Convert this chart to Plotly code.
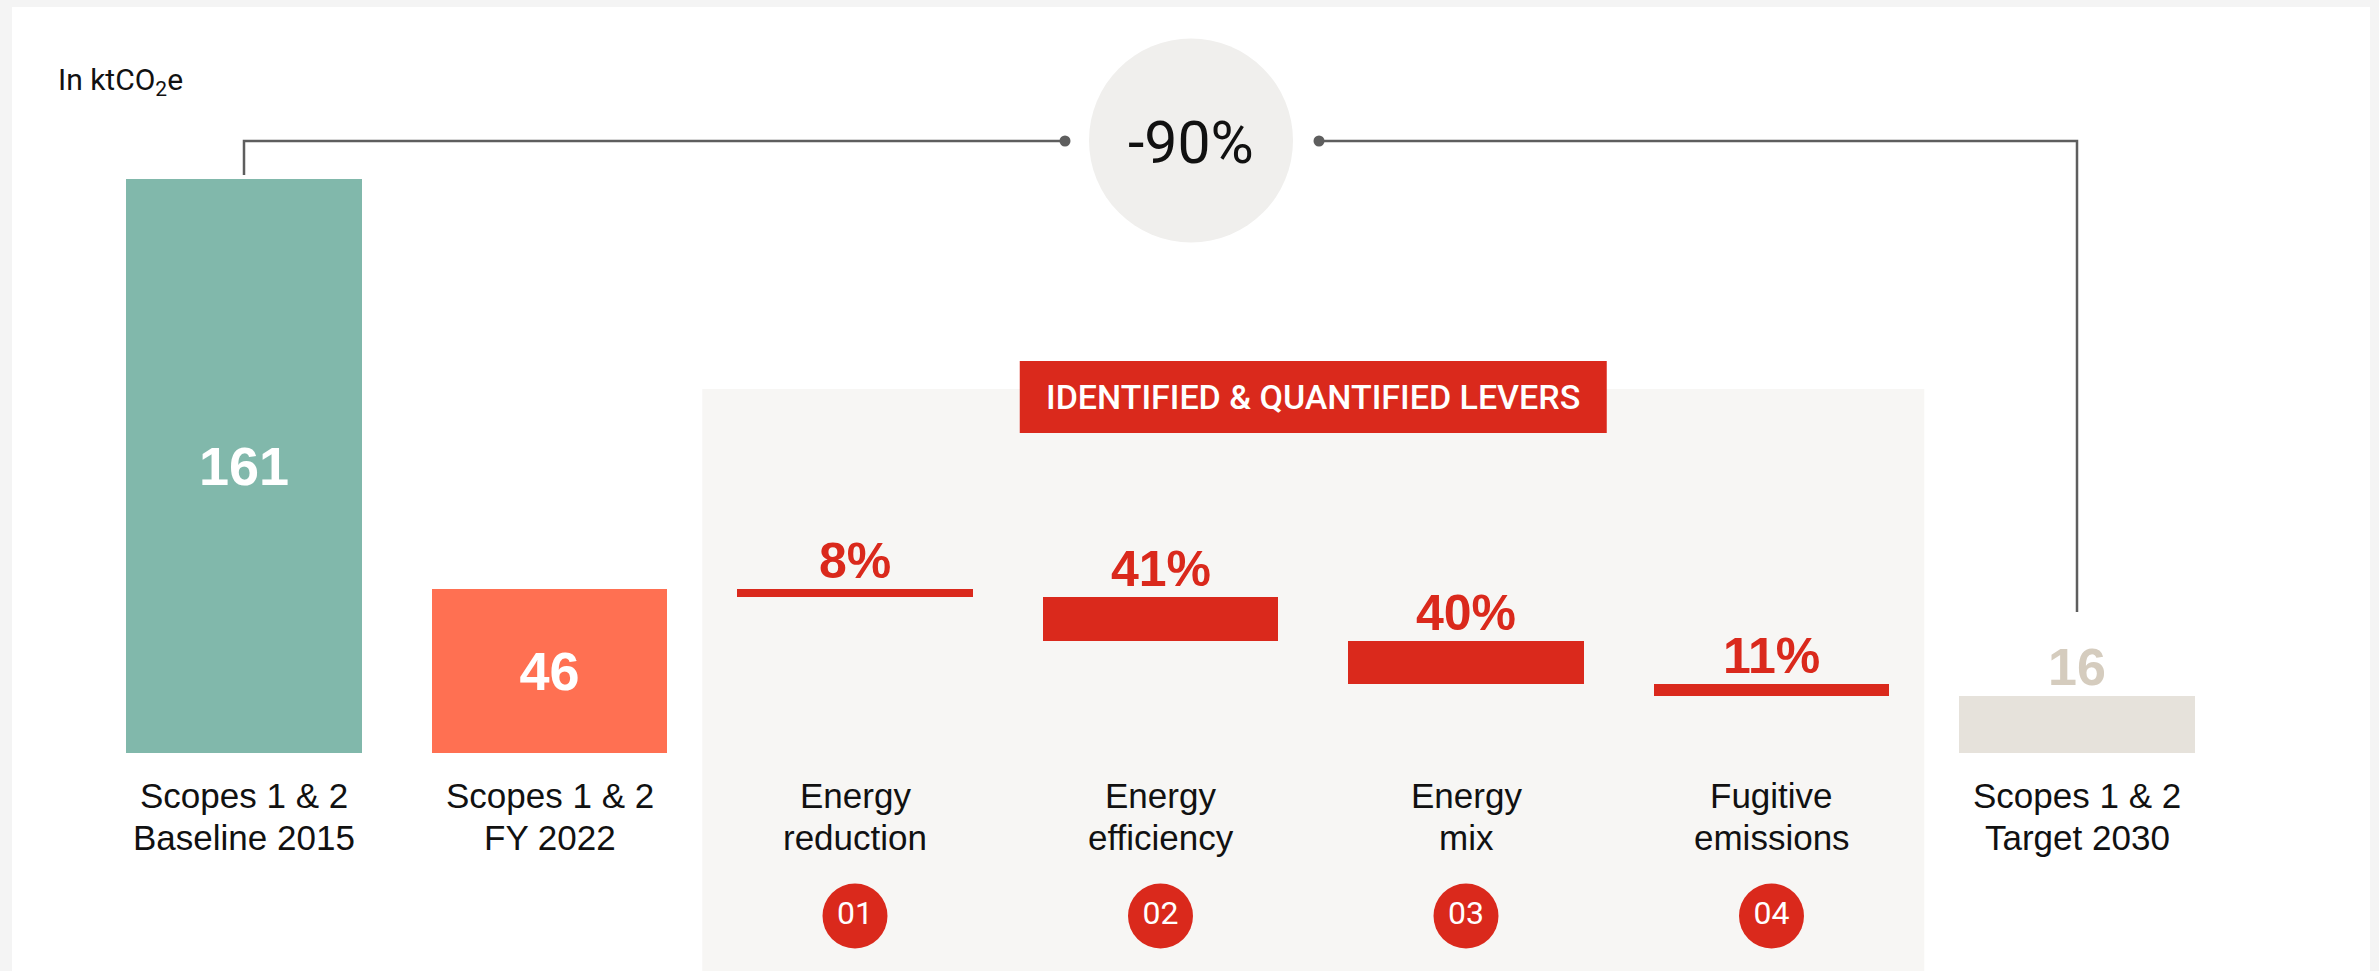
import plotly.graph_objects as go

# ---------------------------------------------------------------- data
stage_labels = [
    "Scopes 1 & 2<br>Baseline 2015",
    "Scopes 1 & 2<br>FY 2022",
    "Energy<br>reduction",
    "Energy<br>efficiency",
    "Energy<br>mix",
    "Fugitive<br>emissions",
    "Scopes 1 & 2<br>Target 2030",
]
baseline_2015 = 161
fy_2022 = 46
target_2030 = 16
lever_ids = ["01", "02", "03", "04"]
lever_shares = [8, 41, 40, 11]          # % of the FY2022 -> 2030 reduction
reduction_label = "-90%"
unit_label = "In ktCO<sub>2</sub>e"
banner_label = "IDENTIFIED & QUANTIFIED LEVERS"

# ---------------------------------------------------------------- style
TEAL = "#81B8AB"
ORANGE = "#FF7052"
RED = "#DA291C"
SAND = "#E6E2DB"
SAND_TXT = "#D5CCBE"
PANEL = "#F7F6F4"
BUBBLE = "#F0EFED"
LINE = "#5E5E5E"
INK = "#111111"
FRAME = "#F4F4F4"

SANS = "Liberation Sans, Arial, sans-serif"
TIGHT = "Roboto, Liberation Sans, sans-serif"

W, H = 2379, 971
M_L, M_R, M_T, M_B = 12, 9, 7, 0

# pixel <-> data helpers (category spacing and value scale of the layout)
X0_PX, X_STEP = 244.0, 305.5
Y0_PX, Y_STEP = 752.7, 3.5634


def xd(px):
    return (px - X0_PX) / X_STEP


def yd(px):
    return (Y0_PX - px) / Y_STEP


# ---------------------------------------------------------------- waterfall
gap = fy_2022 - target_2030
level = fy_2022
lever_top, lever_base, lever_len = [], [], []
for share in lever_shares:
    drop = gap * share / 100.0
    lever_top.append(level)
    level -= drop
    lever_base.append(level)
    lever_len.append(drop)

n_lev = len(lever_shares)
lever_x = [2 + i for i in range(n_lev)]

fig = go.Figure()

# starting totals with the value written inside
fig.add_trace(go.Bar(
    x=[0, 1], y=[baseline_2015, fy_2022], width=0.77,
    marker=dict(color=[TEAL, ORANGE], line=dict(width=0)),
    text=[str(baseline_2015), str(fy_2022)], textposition="inside",
    insidetextanchor="middle",
    textfont=dict(family=SANS, size=54, color="white", weight="bold"),
    hoverinfo="skip", showlegend=False,
))
# reduction levers (floating)
fig.add_trace(go.Bar(
    x=lever_x, y=lever_len, base=lever_base, width=0.77,
    marker=dict(color=RED, line=dict(width=0)),
    hoverinfo="skip", showlegend=False,
))
# 2030 target
fig.add_trace(go.Bar(
    x=[6], y=[target_2030], width=0.77,
    marker=dict(color=SAND, line=dict(width=0)),
    hoverinfo="skip", showlegend=False,
))

# connector from baseline to target through the reduction bubble
dot_l, dot_r, line_px = xd(1065), xd(1319), 141
fig.add_trace(go.Scatter(
    x=[0, 0, dot_l], y=[baseline_2015 + 4 / Y_STEP, yd(line_px), yd(line_px)],
    mode="lines", line=dict(color=LINE, width=2.5),
    hoverinfo="skip", showlegend=False,
))
fig.add_trace(go.Scatter(
    x=[dot_r, 6, 6], y=[yd(line_px), yd(line_px), yd(612)],
    mode="lines", line=dict(color=LINE, width=2.5),
    hoverinfo="skip", showlegend=False,
))
fig.add_trace(go.Scatter(
    x=[dot_l, dot_r], y=[yd(line_px), yd(line_px)],
    mode="markers", marker=dict(color=LINE, size=11, line=dict(width=0)),
    hoverinfo="skip", showlegend=False,
))

# numbered lever badges
fig.add_trace(go.Scatter(
    x=lever_x, y=[yd(916)] * n_lev,
    mode="markers+text", text=lever_ids, textposition="middle center",
    marker=dict(color=RED, size=65, line=dict(width=0)),
    textfont=dict(family=TIGHT, size=32, color="white"),
    hoverinfo="skip", showlegend=False, cliponaxis=False,
))

shapes = [
    # levers panel
    dict(type="rect", xref="x", yref="y", x0=1.5, x1=5.5, y0=yd(H + 5), y1=yd(389),
         fillcolor=PANEL, line=dict(width=0), layer="below"),
    # reduction bubble
    dict(type="circle", xref="x", yref="y", xsizemode="pixel", ysizemode="pixel",
         xanchor=xd(1191), yanchor=yd(140.5), x0=-102, x1=102, y0=-102, y1=102,
         fillcolor=BUBBLE, line=dict(width=0), layer="below"),
    # banner
    dict(type="rect", xref="x", yref="y", xsizemode="pixel", ysizemode="pixel",
         xanchor=3.5, yanchor=yd(397), x0=-293.5, x1=293.5, y0=-36, y1=36,
         fillcolor=RED, line=dict(width=0), layer="above"),
]

annotations = []
line_centres = [795, 837]
for i, lab in enumerate(stage_labels):
    for row, part in enumerate(lab.split("<br>")):
        annotations.append(dict(
            x=i, y=yd(line_centres[row]), xref="x", yref="y", text=part,
            showarrow=False, xanchor="center", yanchor="middle",
            font=dict(family=SANS, size=35, color=INK),
        ))
for i, share in enumerate(lever_shares):
    annotations.append(dict(
        x=lever_x[i], y=lever_top[i], xref="x", yref="y", text=f"{share}%",
        showarrow=False, xanchor="center", yanchor="bottom", yshift=-2,
        font=dict(family=SANS, size=50, color=RED, weight="bold"),
    ))
annotations.append(dict(
    x=6, y=target_2030, xref="x", yref="y", text=str(target_2030),
    showarrow=False, xanchor="center", yanchor="bottom", yshift=-2,
    font=dict(family=SANS, size=52, color=SAND_TXT, weight="bold"),
))
annotations.append(dict(
    x=xd(56), y=yd(81), xref="x", yref="y", text=unit_label, showarrow=False,
    xanchor="left", yanchor="middle",
    font=dict(family=TIGHT, size=30, color=INK),
))
annotations.append(dict(
    x=xd(1191), y=yd(142), xref="x", yref="y", text=reduction_label,
    showarrow=False, xanchor="center", yanchor="middle",
    font=dict(family=TIGHT, size=59, color=INK),
))
annotations.append(dict(
    x=3.5, y=yd(397), xref="x", yref="y", text=banner_label, showarrow=False,
    xanchor="center", yanchor="middle",
    font=dict(family=TIGHT, size=34, color="white", weight=500),
))

fig.update_layout(
    width=W, height=H,
    margin=dict(l=M_L, r=M_R, t=M_T, b=M_B, pad=0),
    paper_bgcolor=FRAME, plot_bgcolor="white",
    xaxis=dict(range=[xd(M_L), xd(W - M_R)], visible=False, fixedrange=True),
    yaxis=dict(range=[yd(H - M_B), yd(M_T)], visible=False, fixedrange=True),
    shapes=shapes, annotations=annotations,
    showlegend=False, barmode="overlay", bargap=0,
)

fig.write_html("out.html", config={"displayModeBar": False})
